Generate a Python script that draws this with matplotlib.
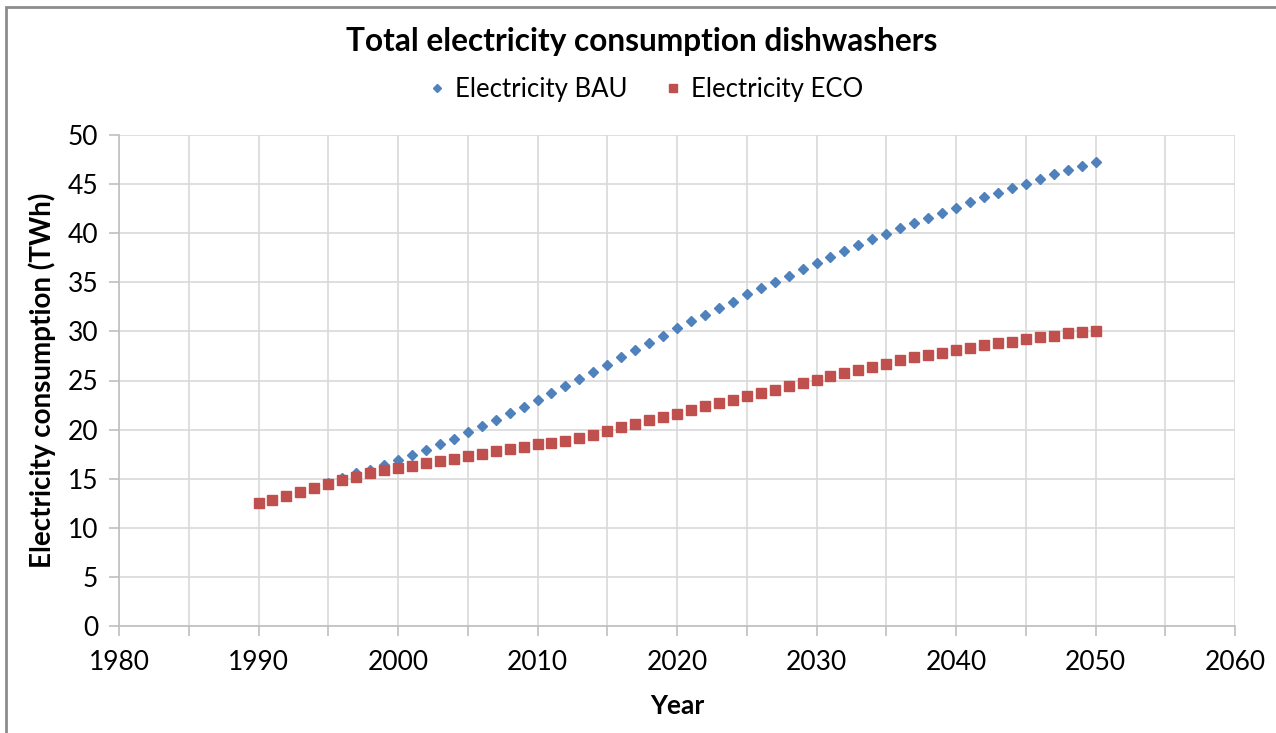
import numpy as np
import matplotlib
matplotlib.use("Agg")
import matplotlib.pyplot as plt
from matplotlib.patches import Rectangle
from matplotlib.ticker import MultipleLocator

plt.rcParams['font.family'] = ['Lato', 'DejaVu Sans']

years = list(range(1990, 2051))

bau = [12.55, 12.85, 13.25, 13.62, 14.02, 14.55, 15.05, 15.59, 15.93, 16.37,
       16.88, 17.39, 17.90, 18.54, 19.08, 19.73, 20.37, 20.98, 21.66, 22.30,
       22.98, 23.70, 24.40, 25.18, 25.86, 26.60, 27.35, 28.10, 28.84, 29.58,
       30.33, 31.07, 31.69, 32.36, 33.04, 33.78, 34.39, 35.07, 35.68, 36.32,
       36.93, 37.58, 38.19, 38.80, 39.37, 39.92, 40.49, 41.03, 41.54, 42.08,
       42.59, 43.13, 43.64, 44.12, 44.62, 45.06, 45.54, 46.02, 46.45, 46.86,
       47.27]

eco = [12.54, 12.85, 13.24, 13.62, 14.02, 14.46, 14.85, 15.22, 15.56, 15.86,
       16.10, 16.34, 16.57, 16.85, 17.05, 17.29, 17.52, 17.80, 18.03, 18.27,
       18.50, 18.65, 18.88, 19.15, 19.49, 19.83, 20.23, 20.61, 20.95, 21.28,
       21.62, 22.03, 22.37, 22.70, 23.05, 23.38, 23.72, 24.06, 24.40, 24.74,
       25.03, 25.42, 25.75, 26.06, 26.36, 26.70, 27.05, 27.35, 27.55, 27.82,
       28.09, 28.33, 28.57, 28.77, 28.97, 29.21, 29.38, 29.58, 29.79, 29.96,
       30.06]

x_ticks = [1980, 1990, 2000, 2010, 2020, 2030, 2040, 2050, 2060]
y_ticks = [0, 5, 10, 15, 20, 25, 30, 35, 40, 45, 50]

BLUE = '#4F81BD'
RED = '#C0504D'
GRID = '#d9d9d9'
AXIS = '#bfbfbf'

fig = plt.figure(figsize=(12.76, 7.33), dpi=100)
ax = fig.add_axes([119 / 1276, 1 - 626 / 733, (1235 - 119) / 1276, (626 - 135) / 733])

ax.plot(years, bau, linestyle='none', marker='D', markersize=5.6,
        color=BLUE, markeredgecolor=BLUE, label='Electricity BAU', zorder=3)
ax.plot(years, eco, linestyle='none', marker='s', markersize=7.7,
        color=RED, markeredgecolor=RED, label='Electricity ECO', zorder=4)

ax.set_xlim(1980, 2060)
ax.set_ylim(0, 50)
ax.set_xticks(x_ticks)
ax.set_yticks(y_ticks)
ax.xaxis.set_minor_locator(MultipleLocator(5))

ax.grid(True, which='both', axis='x', color=GRID, linewidth=1.2, zorder=0)
ax.grid(True, which='major', axis='y', color=GRID, linewidth=1.2, zorder=0)
ax.set_axisbelow(True)

for side in ('top', 'right'):
    ax.spines[side].set_visible(False)
for side in ('left', 'bottom'):
    ax.spines[side].set_color(AXIS)
    ax.spines[side].set_linewidth(1.2)

ax.tick_params(axis='both', which='both', direction='out', color=AXIS,
               width=1.2, length=7, labelsize=19, labelcolor='black')
ax.tick_params(axis='x', which='major', pad=10)
ax.tick_params(axis='y', which='major', pad=8)

ax.set_xlabel('Year', fontsize=19, fontweight='bold', labelpad=14)
ax.set_ylabel('Electricity consumption (TWh)', fontsize=20, fontweight='bold', labelpad=8)

fig.text(0.503, 1 - 41 / 733, 'Total electricity consumption dishwashers',
         ha='center', va='center', fontsize=22.8, fontweight='bold')

handles, labels = ax.get_legend_handles_labels()
leg = fig.legend(handles, labels, loc='center', bbox_to_anchor=(647 / 1276, 1 - 89 / 733),
                 ncol=2, frameon=False, fontsize=18.5, handlelength=0.5,
                 handletextpad=0.45, columnspacing=1.5, markerscale=0.75)

# Chart frame
fig.patches.append(Rectangle((6 / 1276, -0.05), 1.2, (1 - 7 / 733) + 0.05,
                             transform=fig.transFigure, fill=False,
                             edgecolor='#8c8c8c', linewidth=2))

fig.savefig('out.png', dpi=100)
